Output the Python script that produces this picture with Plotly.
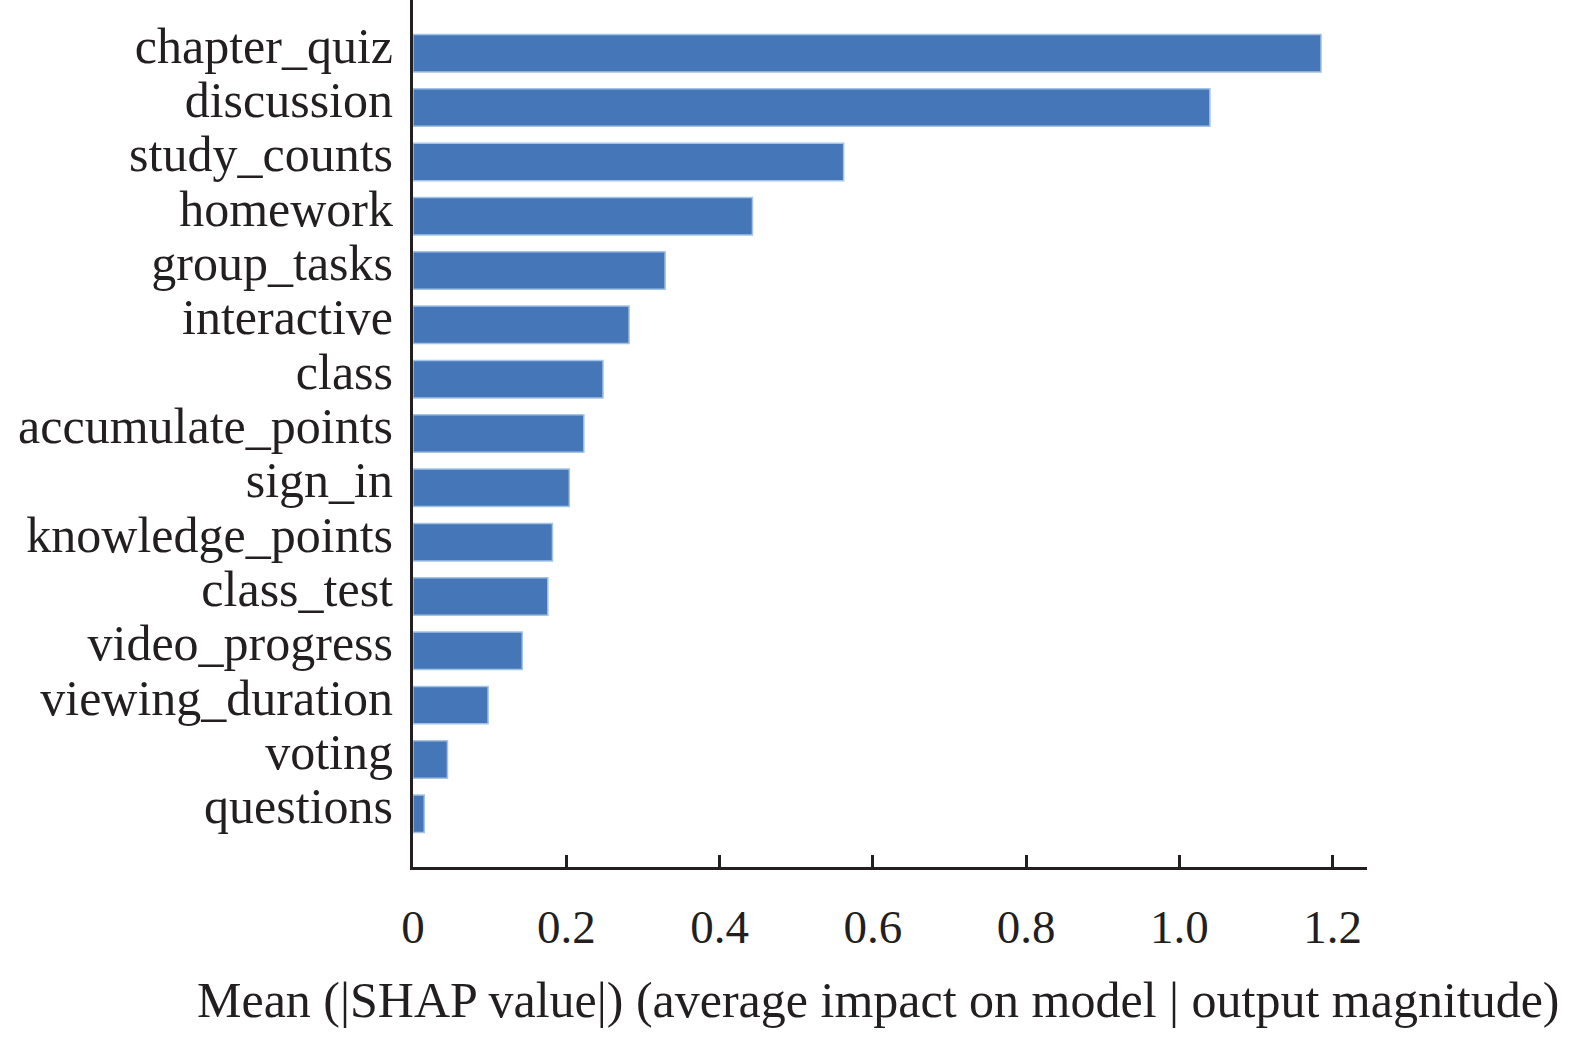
import plotly.graph_objects as go

features = [
    "questions", "voting", "viewing_duration", "video_progress", "class_test",
    "knowledge_points", "sign_in", "accumulate_points", "class", "interactive",
    "group_tasks", "homework", "study_counts", "discussion", "chapter_quiz",
]
mean_shap = [
    0.0147, 0.045, 0.098, 0.1426, 0.176,
    0.182, 0.204, 0.223, 0.248, 0.282,
    0.329, 0.443, 0.562, 1.040, 1.185,
]
tick_vals = [0, 0.2, 0.4, 0.6, 0.8, 1.0, 1.2]
tick_text = ["0", "0.2", "0.4", "0.6", "0.8", "1.0", "1.2"]
x_title = "Mean (|SHAP value|) (average impact on model | output magnitude)"

fig = go.Figure()
fig.add_trace(
    go.Bar(
        x=mean_shap,
        y=features,
        orientation="h",
        width=0.69,
        marker=dict(color="#4577b8", line=dict(color="#a4c4e6", width=1.5)),
        showlegend=False,
    )
)

fig.update_layout(
    width=1575,
    height=1038,
    margin=dict(l=413, r=208, t=0, b=171),
    plot_bgcolor="white",
    paper_bgcolor="white",
    font=dict(family="Liberation Serif, Times New Roman, serif", size=50, color="#231f20"),
)
# axis title as annotation so it can sit slightly left of the plot centre
fig.add_annotation(
    text=x_title,
    xref="paper",
    yref="paper",
    x=0.488,
    y=-0.153,
    xanchor="center",
    yanchor="middle",
    showarrow=False,
    font=dict(size=50),
)
fig.update_xaxes(
    range=[0, 1.245],
    tickvals=tick_vals,
    ticktext=tick_text,
    ticks="inside",
    ticklen=12,
    tickwidth=3,
    tickcolor="#231f20",
    showline=True,
    linewidth=3,
    linecolor="#231f20",
    showgrid=False,
    zeroline=False,
    automargin=False,
    ticklabelstandoff=17,
    tickfont=dict(size=47),
)
fig.update_yaxes(
    range=[-0.98, 14.98],
    tickmode="array",
    tickvals=features,
    showline=True,
    linewidth=3,
    linecolor="#231f20",
    showgrid=False,
    zeroline=False,
    automargin=False,
    ticks="",
    ticklabelstandoff=7,
    ticklabelshift=-8,
    tickfont=dict(size=50),
)

fig.write_html(
    "out.html",
    config={"displayModeBar": False},
    post_script="document.body.style.margin = '0';",
)
